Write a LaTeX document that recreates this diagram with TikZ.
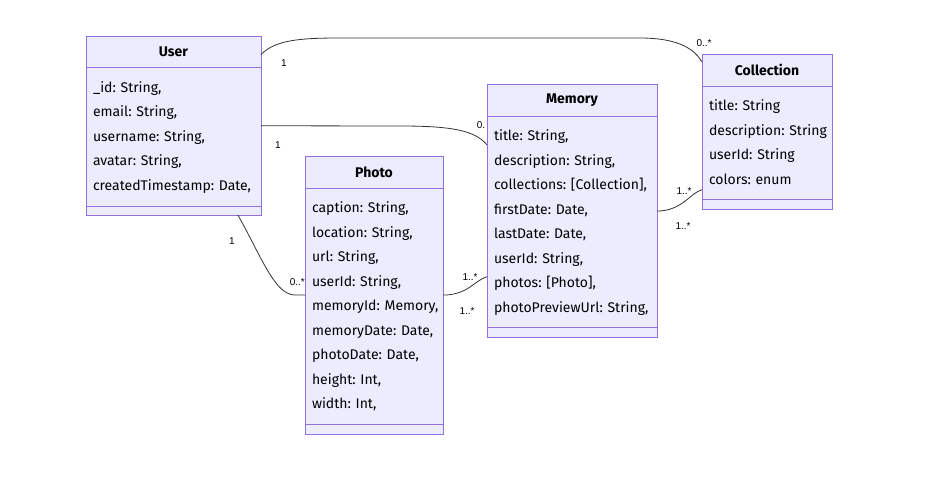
\documentclass[tikz,border=0pt]{standalone}
\usepackage{fontspec}
\setmainfont{Fira Sans}
\newfontfamily\multfont{Liberation Sans}
\usepackage{xcolor}
\usepackage{tikz}
\usetikzlibrary{positioning}
\definecolor{uml-bg}{HTML}{ECECFF}
\definecolor{uml-purple}{HTML}{9370DB}
\definecolor{uml-line}{HTML}{333333}
\frenchspacing

\begin{document}
\begin{tikzpicture}[x=1pt, y=-1pt,
    classbox/.style={draw=uml-purple, fill=uml-bg, line width=1pt, outer sep=0pt},
    classhead/.style={classbox, font=\bfseries\fontsize{14}{17}\selectfont, minimum height=32pt, inner sep=0pt},
    classbody/.style={classbox, font=\fontsize{14}{24.5}\selectfont, align=left, inner xsep=7pt, inner ysep=0pt},
    classfoot/.style={classbox, minimum height=10pt, inner sep=0pt},
    assoc/.style={draw=uml-line, line width=0.8pt},
    mult/.style={font=\multfont\fontsize{10}{12}\selectfont, text=black, inner sep=0pt}]

    \useasboundingbox (0,0) rectangle (949,480);

    % User
    \node (userhead) [classhead, minimum width=175pt, minimum height=31pt, anchor=north west] at (86,36) {User};
    \node (userattr) [classbody, text width=161pt, minimum height=139pt, below=0pt of userhead] {
        \begin{tabular}{@{}l@{}}
        \_id: String,\\
        email: String,\\
        username: String,\\
        avatar: String,\\
        createdTimestamp: Date,
        \end{tabular}
    };
    \node (userfoot) [classfoot, minimum width=175pt, minimum height=9pt, below=0pt of userattr] {};

    % Photo
    \node (photohead) [classhead, minimum width=138pt, anchor=north west] at (305,156) {Photo};
    \node (photoattr) [classbody, text width=124pt, minimum height=236pt, below=0pt of photohead] {
        \begin{tabular}{@{}l@{}}
        caption: String,\\
        location: String,\\
        url: String,\\
        userId: String,\\
        memoryId: Memory,\\
        memoryDate: Date,\\
        photoDate: Date,\\
        height: Int,\\
        width: Int,
        \end{tabular}
    };
    \node (photofoot) [classfoot, minimum width=138pt, below=0pt of photoattr] {};

    % Memory
    \node (memhead) [classhead, minimum width=170pt, anchor=north west] at (487,84) {Memory};
    \node (memattr) [classbody, text width=156pt, minimum height=211pt, below=0pt of memhead] {
        \begin{tabular}{@{}l@{}}
        title: String,\\
        description: String,\\
        collections: [Collection],\\
        firstDate: Date,\\
        lastDate: Date,\\
        userId: String,\\
        photos: [Photo],\\
        photoPreviewUrl: String,
        \end{tabular}
    };
    \node (memfoot) [classfoot, minimum width=170pt, below=0pt of memattr] {};

    % Collection
    \node (colhead) [classhead, minimum width=130pt, anchor=north west] at (702,54) {Collection};
    \node (colattr) [classbody, text width=116pt, minimum height=113pt, below=0pt of colhead] {
        \begin{tabular}{@{}l@{}}
        title: String\\
        description: String\\
        userId: String\\
        colors: enum
        \end{tabular}
    };
    \node (colfoot) [classfoot, minimum width=130pt, below=0pt of colattr] {};

    % associations
    \draw[assoc] (userhead.-2) .. controls (275,40) and (300,38) .. (340,38) -- (640,38)
        .. controls (680,38) and (695,50) .. (colhead.173);
    \draw[assoc] (userattr.7) -- (400,126) .. controls (450,126) and (475,130) .. (memattr.138);
    \draw[assoc] (userfoot.-4.4) .. controls (262,258) and (275,295) .. (295,295) -- (photoattr.171);
    \draw[assoc] (photoattr.9) .. controls (468,295) and (475,280) .. (memattr.213);
    \draw[assoc] (memattr.7) .. controls (682,211) and (690,193) .. (colattr.216);

    % multiplicities
    \node (mult-uc) [mult] at (284,63) {1};
    \node (mult-cu) [mult] at (704,43) {0..*};
    \node (mult-um) [mult] at (278,145) {1};
    \node (mult-mu) [mult] at (481,125) {0.};
    \node (mult-up) [mult] at (232,241) {1};
    \node (mult-pu) [mult, anchor=east] at (305,282) {0..*};
    \node (mult-pm) [mult] at (470,277) {1..*};
    \node (mult-mp) [mult] at (467,311) {1..*};
    \node (mult-mc) [mult] at (684,191) {1..*};
    \node (mult-cm) [mult] at (683,226) {1..*};
\end{tikzpicture}
\end{document}
